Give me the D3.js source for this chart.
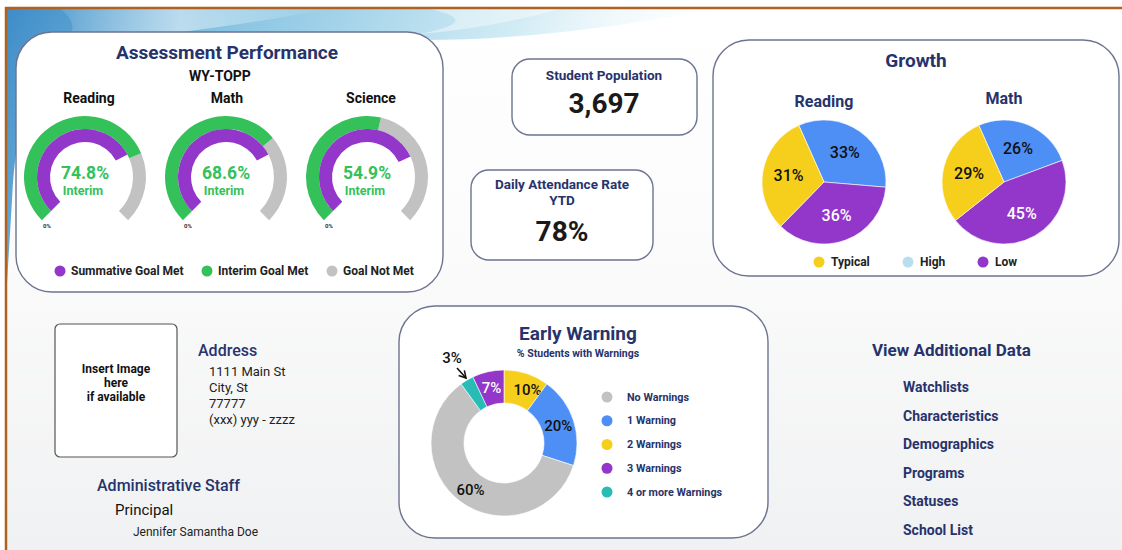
<!DOCTYPE html>
<html><head><meta charset="utf-8">
<script src="https://cdn.jsdelivr.net/npm/d3@7"></script>
<style>html,body{margin:0;padding:0;background:#fff;}svg{display:block;font-family:Roboto,"Noto Sans",sans-serif;}</style>
</head><body>
<svg id="chart" width="1122" height="550"></svg>
<script>
// ---------- DATA ----------
const gaugeSubjects = ["Reading", "Math", "Science"];
const interimPct = [74.8, 68.6, 54.9];
const summativePct = [73, 73, 74];
const gaugeLegend = ["Summative Goal Met", "Interim Goal Met", "Goal Not Met"];

const growthSubjects = ["Reading", "Math"];
const growthCategories = ["High", "Low", "Typical"];
const growthReading = [33, 36, 31];
const growthMath = [26, 45, 29];
const growthLegend = ["Typical", "High", "Low"];

const warningCategories = ["2 Warnings", "1 Warning", "No Warnings", "4 or more Warnings", "3 Warnings"];
const warningValues = [10, 20, 60, 3, 7];
const warningLegend = ["No Warnings", "1 Warning", "2 Warnings", "3 Warnings", "4 or more Warnings"];

const studentPopulation = 3697;
const attendanceRate = 78;

const addressLines = ["1111 Main St", "City, St", "77777", "(xxx) yyy - zzzz"];
const additionalLinks = ["Watchlists", "Characteristics", "Demographics", "Programs", "Statuses", "School List"];

// ---------- STYLE ----------
const NAVY = "#27336b", GREEN = "#34c15a", GRAY = "#c2c2c2", PURPLE = "#9237c9",
      BLUE = "#4d8ff5", YELLOW = "#f6cf1d", TEAL = "#27bdb6", LIGHTBLUE = "#b9def0", CARD = "#6d7391";
const colorOf = {"High": BLUE, "Low": PURPLE, "Typical": YELLOW,
  "No Warnings": GRAY, "1 Warning": BLUE, "2 Warnings": YELLOW, "3 Warnings": PURPLE, "4 or more Warnings": TEAL};
const legendColor = {"Typical": YELLOW, "High": LIGHTBLUE, "Low": PURPLE};

const svg = d3.select("#chart");
const defs = svg.append("defs");

// background
const bg = defs.append("linearGradient").attr("id", "bgGrad").attr("x1", 0).attr("y1", 0).attr("x2", 0).attr("y2", 1);
bg.append("stop").attr("offset", "0%").attr("stop-color", "#ffffff");
bg.append("stop").attr("offset", "45%").attr("stop-color", "#fbfbfb");
bg.append("stop").attr("offset", "100%").attr("stop-color", "#f0f1f2");
svg.append("rect").attr("x", 6).attr("y", 8).attr("width", 1116).attr("height", 542).attr("fill", "url(#bgGrad)");

// blue swoosh
const sw = defs.append("linearGradient").attr("id", "swGrad").attr("x1", 0).attr("y1", 0).attr("x2", 1).attr("y2", 0.2);
sw.append("stop").attr("offset", "0%").attr("stop-color", "#3e8cc8");
sw.append("stop").attr("offset", "30%").attr("stop-color", "#86c3e2");
sw.append("stop").attr("offset", "70%").attr("stop-color", "#d2ecf5");
sw.append("stop").attr("offset", "100%").attr("stop-color", "#ffffff").attr("stop-opacity", 0);
svg.append("path")
  .attr("d", "M6,9 H720 C640,22 540,40 420,40 C300,40 160,34 70,60 C30,75 16,120 12,200 L6,300 Z")
  .attr("fill", "url(#swGrad)");
const sw2 = defs.append("linearGradient").attr("id", "swGrad2").attr("x1", 0).attr("y1", 0).attr("x2", 1).attr("y2", 0);
sw2.append("stop").attr("offset", "0%").attr("stop-color", "#ffffff").attr("stop-opacity", 0.0);
sw2.append("stop").attr("offset", "50%").attr("stop-color", "#ffffff").attr("stop-opacity", 0.5);
sw2.append("stop").attr("offset", "100%").attr("stop-color", "#ffffff").attr("stop-opacity", 0);
svg.append("path")
  .attr("d", "M60,9 H330 C260,22 200,30 120,40 C90,45 60,55 30,80 C60,50 90,30 60,9 Z")
  .attr("fill", "url(#swGrad2)");
svg.append("path")
  .attr("d", "M430,9 H560 C520,20 470,30 420,34 C460,26 470,18 430,9 Z")
  .attr("fill", "#ffffff").attr("opacity", 0.4);

// frame (top & left)
svg.append("line").attr("x1", 5).attr("x2", 1122).attr("y1", 8).attr("y2", 8).attr("stroke", "#b0611f").attr("stroke-width", 2.5);
svg.append("line").attr("x1", 6).attr("x2", 6).attr("y1", 7).attr("y2", 550).attr("stroke", "#b0611f").attr("stroke-width", 2.5);

function card(x, y, w, h, r) {
  svg.append("rect").attr("x", x).attr("y", y).attr("width", w).attr("height", h).attr("rx", r).attr("ry", r)
    .attr("fill", "#ffffff").attr("stroke", CARD).attr("stroke-width", 1.4);
}
function text(x, y, str, size, weight, color, anchor) {
  return svg.append("text").attr("x", x).attr("y", y).text(str)
    .attr("font-size", size).attr("font-weight", weight).attr("fill", color)
    .attr("text-anchor", anchor || "middle").attr("dominant-baseline", "central");
}

// ---------- ASSESSMENT PERFORMANCE ----------
card(16, 32, 427, 260, 36);
text(227, 52, "Assessment Performance", 19, 700, NAVY);
text(220, 76, "WY-TOPP", 14, 700, "#111");

const gx = d3.scalePoint().domain(gaugeSubjects).range([85, 367]);
const gAngle = d3.scaleLinear().domain([0, 100]).range([-0.75 * Math.PI, 0.75 * Math.PI]);
const gcy = 177;
const outerArc = d3.arc().innerRadius(48).outerRadius(61);
const innerArc = d3.arc().innerRadius(35).outerRadius(48);
const labelX = {"Reading": 89, "Math": 227, "Science": 371};

gaugeSubjects.forEach((s, i) => {
  const g = svg.append("g").attr("transform", `translate(${gx(s)},${gcy})`);
  text(labelX[s], 98, s, 14, 700, "#111");
  g.append("path").attr("d", outerArc({startAngle: gAngle(interimPct[i]), endAngle: gAngle(100)})).attr("fill", GRAY);
  g.append("path").attr("d", outerArc({startAngle: gAngle(0), endAngle: gAngle(interimPct[i])})).attr("fill", GREEN);
  g.append("path").attr("d", innerArc({startAngle: gAngle(0), endAngle: gAngle(summativePct[i])})).attr("fill", PURPLE);
  g.append("text").attr("x", 0).attr("y", -4).text(d3.format(".1f")(interimPct[i]) + "%")
    .attr("font-size", 17.5).attr("font-weight", 700).attr("fill", GREEN).attr("text-anchor", "middle").attr("dominant-baseline", "central");
  g.append("text").attr("x", -2).attr("y", 13).text("Interim")
    .attr("font-size", 12.5).attr("font-weight", 700).attr("fill", GREEN).attr("text-anchor", "middle").attr("dominant-baseline", "central");
  g.append("text").attr("x", -38).attr("y", 48).text("0%")
    .attr("font-size", 6).attr("font-weight", 700).attr("fill", "#333").attr("text-anchor", "middle").attr("dominant-baseline", "central");
});

const gLegX = [60, 207, 332];
const gLegColors = [PURPLE, GREEN, GRAY];
gaugeLegend.forEach((l, i) => {
  svg.append("circle").attr("cx", gLegX[i]).attr("cy", 271).attr("r", 5.5).attr("fill", gLegColors[i]);
  text(gLegX[i] + 11, 271, l, 12, 700, "#222", "start");
});

// ---------- KPI CARDS ----------
card(512, 59, 185, 76, 18);
text(604, 75, "Student Population", 13.5, 700, NAVY);
text(604, 103, d3.format(",")(studentPopulation), 28, 700, "#1a1a1a");

card(471, 170, 182, 90, 18);
text(562, 184, "Daily Attendance Rate", 13.5, 700, NAVY);
text(562, 200, "YTD", 13.5, 700, NAVY);
text(562, 231, attendanceRate + "%", 28, 700, "#1a1a1a");

// ---------- GROWTH ----------
card(713, 40, 406, 236, 36);
text(916, 60, "Growth", 19, 700, NAVY);
const growthData = {"Reading": growthReading, "Math": growthMath};
const pieCx = {"Reading": 824, "Math": 1004};
const pieCy = 182;
const pieStart = -24 * Math.PI / 180;
const growthPie = d3.pie().sort(null).startAngle(pieStart).endAngle(pieStart + 2 * Math.PI);
const pieArc = d3.arc().innerRadius(0).outerRadius(62);
const pieLabelArc = d3.arc().innerRadius(36).outerRadius(36);
growthSubjects.forEach(s => {
  text(pieCx[s], s === "Reading" ? 101 : 98, s, 16, 700, NAVY);
  const g = svg.append("g").attr("transform", `translate(${pieCx[s]},${pieCy})`);
  const arcs = growthPie(growthData[s]);
  arcs.forEach((a, i) => {
    const cat = growthCategories[i];
    g.append("path").attr("d", pieArc(a)).attr("fill", colorOf[cat]).attr("stroke", "#fff").attr("stroke-width", 0.6);
    const c = pieLabelArc.centroid(a);
    g.append("text").attr("x", c[0]).attr("y", c[1]).text(growthData[s][i] + "%")
      .attr("font-size", 16).attr("font-weight", 500).attr("fill", cat === "Low" ? "#fff" : "#111")
      .attr("text-anchor", "middle").attr("dominant-baseline", "central");
  });
});
const grLegX = [819, 908, 983];
growthLegend.forEach((l, i) => {
  svg.append("circle").attr("cx", grLegX[i]).attr("cy", 262).attr("r", 5.5).attr("fill", legendColor[l]);
  text(grLegX[i] + 12, 262, l, 12, 700, "#222", "start");
});

// ---------- EARLY WARNING ----------
card(399, 306, 369, 232, 36);
text(578, 333, "Early Warning", 19, 700, NAVY);
text(578, 353, "% Students with Warnings", 10.5, 700, NAVY);
const dcx = 504, dcy = 443;
const donutPie = d3.pie().sort(null);
const donutArc = d3.arc().innerRadius(40).outerRadius(73);
const donutLabelArc = d3.arc().innerRadius(57).outerRadius(57);
const dg = svg.append("g").attr("transform", `translate(${dcx},${dcy})`);
donutPie(warningValues).forEach((a, i) => {
  const cat = warningCategories[i];
  dg.append("path").attr("d", donutArc(a)).attr("fill", colorOf[cat]).attr("stroke", "#fff").attr("stroke-width", 0.6);
  if (warningValues[i] >= 5) {
    const c = donutLabelArc.centroid(a);
    dg.append("text").attr("x", c[0] + (cat === "2 Warnings" ? 6 : 0)).attr("y", c[1] + 1).text(warningValues[i] + "%")
      .attr("font-size", 15).attr("font-weight", 500).attr("fill", cat === "3 Warnings" ? "#fff" : "#111")
      .attr("text-anchor", "middle").attr("dominant-baseline", "central");
  }
});
// callout for the small slice
const smallIdx = warningCategories.indexOf("4 or more Warnings");
text(452, 358, warningValues[smallIdx] + "%", 15, 500, "#111");
defs.append("marker").attr("id", "arrowHead").attr("viewBox", "0 0 10 10").attr("refX", 8).attr("refY", 5)
  .attr("markerWidth", 6).attr("markerHeight", 6).attr("orient", "auto")
  .append("path").attr("d", "M1,1 L8,5 L1,9").attr("fill", "none").attr("stroke", "#111").attr("stroke-width", 1.6);
svg.append("line").attr("x1", 457).attr("y1", 368).attr("x2", 466).attr("y2", 378)
  .attr("stroke", "#111").attr("stroke-width", 1.6).attr("marker-end", "url(#arrowHead)");

const wy = d3.scalePoint().domain(warningLegend).range([397, 492]);
warningLegend.forEach(l => {
  svg.append("circle").attr("cx", 607).attr("cy", wy(l)).attr("r", 5.5).attr("fill", colorOf[l]);
  text(627, wy(l), l, 10.8, 700, NAVY, "start");
});

// ---------- SCHOOL INFO ----------
svg.append("rect").attr("x", 55).attr("y", 324).attr("width", 122).attr("height", 133).attr("rx", 5)
  .attr("fill", "#fff").attr("stroke", "#555").attr("stroke-width", 1.2);
["Insert Image", "here", "if available"].forEach((t, i) => text(116, 369 + i * 14, t, 12, 700, "#111"));
text(198, 350, "Address", 16, 500, NAVY, "start");
addressLines.forEach((t, i) => text(209, 371 + i * 16, t, 13, 400, "#222", "start"));
text(97, 485, "Administrative Staff", 16, 500, NAVY, "start");
text(115, 510, "Principal", 15, 400, "#111", "start");
text(133, 532, "Jennifer Samantha Doe", 12, 400, "#222", "start");

// ---------- VIEW ADDITIONAL DATA ----------
text(872, 350, "View Additional Data", 17, 700, NAVY, "start");
const ly = d3.scalePoint().domain(additionalLinks).range([387, 530]);
additionalLinks.forEach(l => text(903, ly(l), l, 14, 700, NAVY, "start"));
</script>
</body></html>
